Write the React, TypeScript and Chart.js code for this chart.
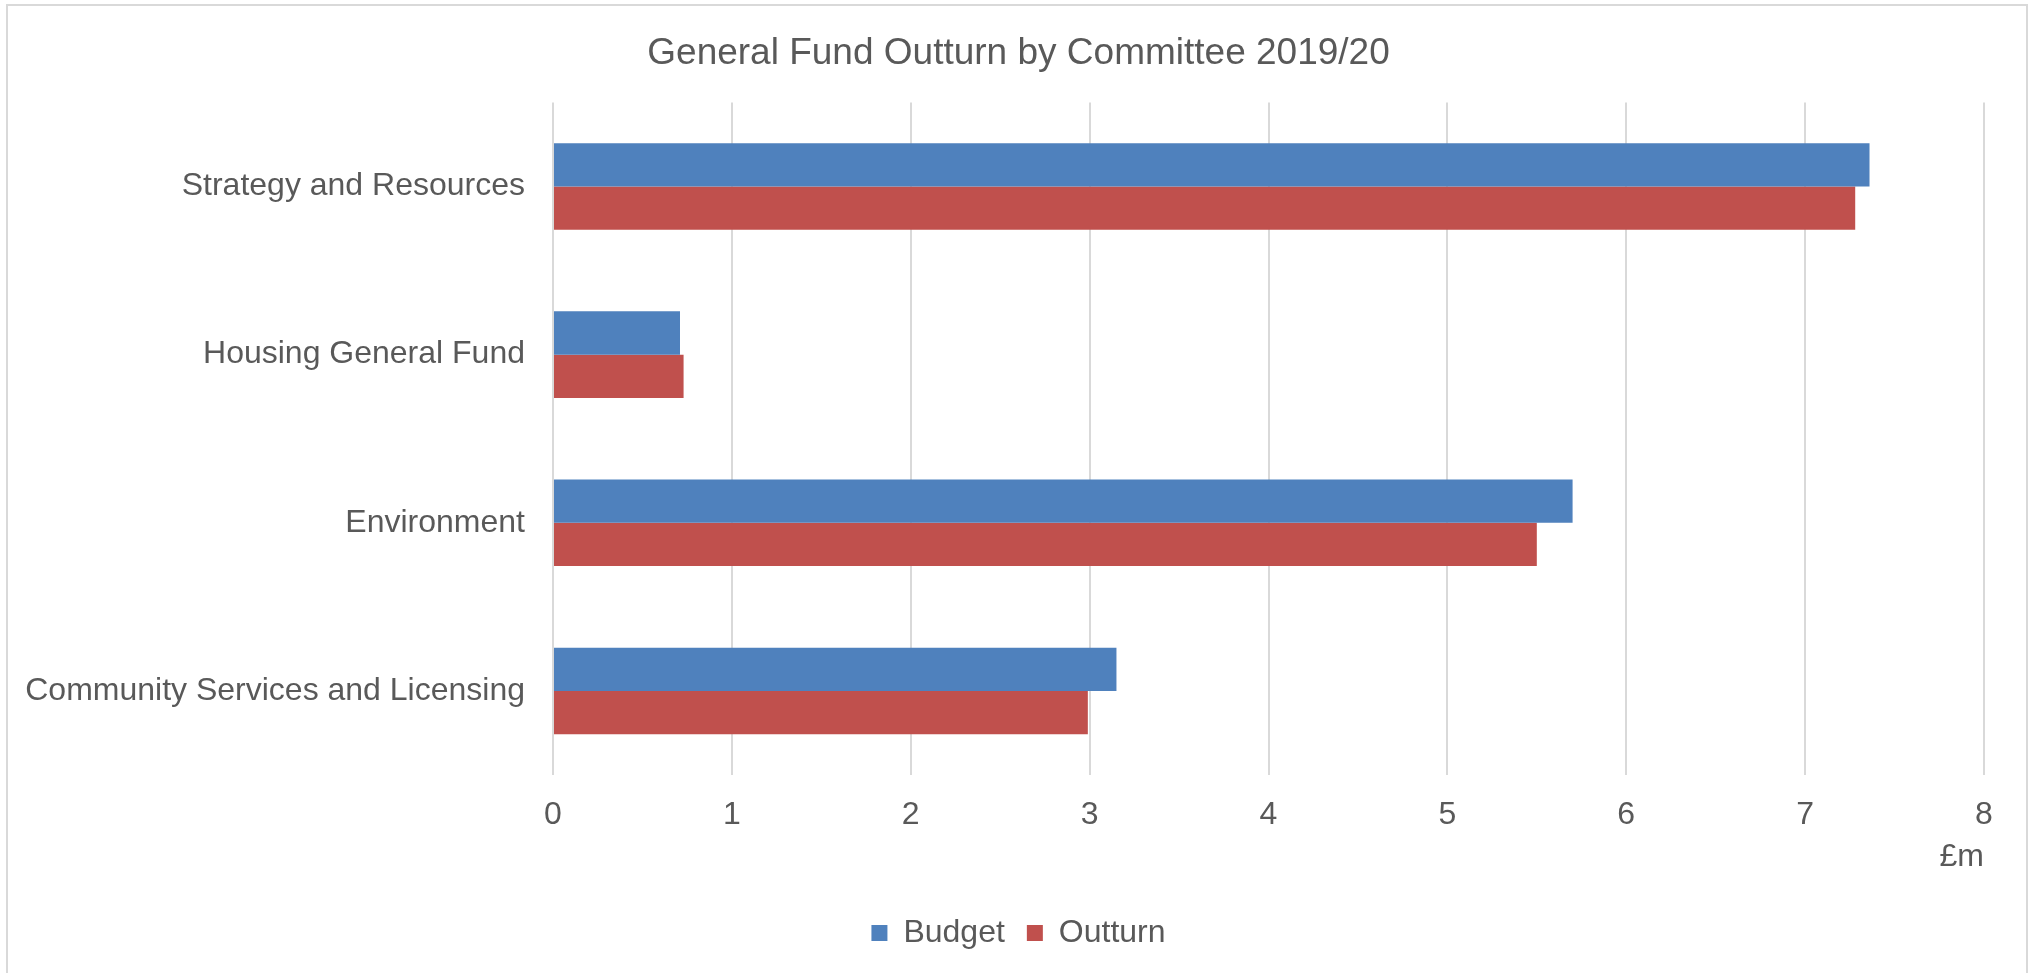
import React, { useEffect, useRef } from "react";
import { Chart, registerables } from "chart.js";

Chart.register(...registerables);

const categories = [
  "Strategy and Resources",
  "Housing General Fund",
  "Environment",
  "Community Services and Licensing",
];
const budget = [7.36, 0.71, 5.7, 3.15];
const outturn = [7.28, 0.73, 5.5, 2.99];
const xTicks = [0, 1, 2, 3, 4, 5, 6, 7, 8];

const TEXT = "#595959";
const GRID = "#d9d9d9";
const FONT = "'Liberation Sans', Arial, sans-serif";

const PAD_L = 24;
const PAD_R = 20;
const PLOT_L = 553;
const PLOT_R = 1984;

const framePlugin = {
  id: "frame",
  beforeDraw(chart: any) {
    const ctx = chart.ctx;
    ctx.save();
    ctx.fillStyle = "#ffffff";
    ctx.fillRect(0, 0, chart.width, chart.height);
    ctx.strokeStyle = GRID;
    ctx.lineWidth = 2;
    ctx.strokeRect(7, 5, 2020, 1100);
    ctx.restore();
  },
};

export default function App() {
  const ref = useRef<HTMLCanvasElement>(null);
  useEffect(() => {
    if (!ref.current) return;
    const chart = new Chart(ref.current, {
      type: "bar",
      data: {
        labels: categories,
        datasets: [
          { label: "Budget", data: budget, backgroundColor: "#4F81BD", borderWidth: 0 },
          { label: "Outturn", data: outturn, backgroundColor: "#C0504D", borderWidth: 0 },
        ],
      },
      plugins: [framePlugin],
      options: {
        indexAxis: "y",
        responsive: false,
        animation: false,
        devicePixelRatio: 1,
        datasets: { bar: { categoryPercentage: 0.515, barPercentage: 1 } },
        layout: { padding: { left: PAD_L, right: PAD_R, top: 0, bottom: 14 } },
        scales: {
          x: {
            min: 0,
            max: 8,
            afterBuildTicks: (scale: any) => {
              scale.ticks = xTicks.map((v) => ({ value: v }));
            },
            afterFit: (scale: any) => {
              scale.height = 120;
            },
            ticks: { font: { family: FONT, size: 32 }, color: TEXT, padding: 21 },
            grid: { color: GRID, lineWidth: 2, drawTicks: false },
            border: { display: false },
            title: {
              display: true,
              text: "£m",
              align: "end",
              font: { family: FONT, size: 32 },
              color: TEXT,
              padding: { top: 0, bottom: 19 },
            },
          },
          y: {
            afterFit: (scale: any) => {
              scale.width = PLOT_L - PAD_L;
            },
            ticks: { font: { family: FONT, size: 32 }, color: TEXT, padding: 28 },
            grid: { display: false, drawTicks: false },
            border: { display: false },
          },
          yRight: {
            position: "right",
            display: true,
            afterFit: (scale: any) => {
              scale.width = 2033 - PAD_R - PLOT_R;
            },
            ticks: { display: false },
            grid: { display: false, drawTicks: false },
            border: { display: false },
          },
        },
        plugins: {
          title: {
            display: true,
            text: "General Fund Outturn by Committee 2019/20",
            font: { family: FONT, size: 37, weight: "normal" },
            color: TEXT,
            padding: { top: 32, bottom: 26 },
          },
          legend: {
            position: "bottom",
            labels: {
              font: { family: FONT, size: 32 },
              color: TEXT,
              boxWidth: 16,
              boxHeight: 16,
              padding: 22,
            },
          },
          tooltip: { enabled: false },
        },
      },
    } as any);
    return () => chart.destroy();
  }, []);
  return (
    <div style={{ position: "fixed", left: 0, top: 0, width: 2033, height: 973, background: "#fff" }}>
      <canvas ref={ref} width={2033} height={973} style={{ display: "block" }} />
    </div>
  );
}
